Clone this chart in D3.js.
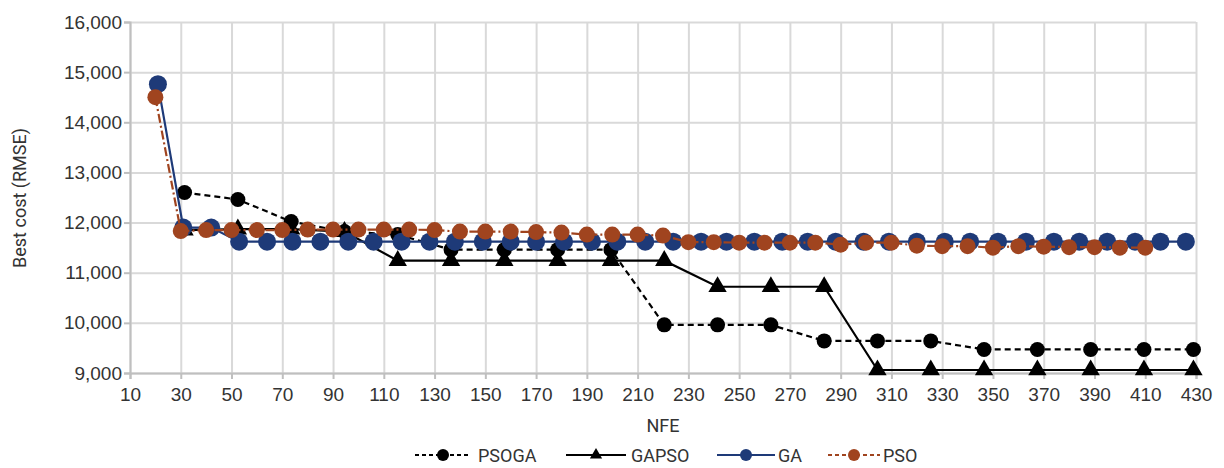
<!DOCTYPE html>
<html>
<head>
<meta charset="utf-8">
<script src="https://cdn.jsdelivr.net/npm/d3@7"></script>
<style>
  body { margin: 0; background: #fff; }
  svg { font-family: Roboto, 'Liberation Sans', sans-serif; }
  .grid line { stroke: #d9d9d9; stroke-width: 2px; }
  .grid path { display: none; }
  .axis path, .axis line { stroke: #bfbfbf; stroke-width: 2px; }
  .axis text { fill: #333; font-size: 19px; }
  .title { fill: #333; font-size: 18px; }
  .legend text { fill: #333; font-size: 18px; }
</style>
</head>
<body>
<div id="chart"></div>
<script>
'use strict';

// tick labels
var xTicks = [ 10, 30, 50, 70, 90, 110, 130, 150, 170, 190, 210, 230, 250, 270, 290, 310, 330, 350, 370, 390, 410, 430 ];
var yTicks = [ 9000, 10000, 11000, 12000, 13000, 14000, 15000, 16000 ];

// PSOGA and GAPSO share the same NFE points
var hybridNfe = [ 31.5, 52.5, 73.5, 94.5, 115.5, 136.5, 157.5, 178.5, 199.5, 220.5,
                  241.5, 262.5, 283.5, 304.5, 325.5, 346.5, 367.5, 388.5, 409.5, 429 ];
var psogaCost = [ 12600, 12460, 12020, 11820, 11760, 11460, 11460, 11460, 11460, 9960,
                  9960, 9960, 9640, 9640, 9640, 9470, 9470, 9470, 9470, 9470 ];
var gapsoCost = [ 11850, 11870, 11870, 11820, 11240, 11240, 11240, 11240, 11240, 11240,
                  10720, 10720, 10720, 9060, 9060, 9060, 9060, 9060, 9060, 9060 ];

var gaNfe = [ 21, 31, 42, 53, 64, 74, 85, 96, 106, 117, 128, 138, 149, 160, 170, 181, 192, 202, 213, 224,
              235, 245, 256, 267, 277, 288, 299, 309, 320, 331, 341, 352, 363, 374, 384, 395, 406, 416, 426 ];
var gaCost = [ 14760, 11900, 11900, 11620, 11620, 11620, 11620, 11620, 11620, 11620,
               11620, 11620, 11620, 11620, 11620, 11620, 11620, 11620, 11620, 11620,
               11620, 11620, 11620, 11620, 11620, 11620, 11620, 11620, 11620, 11620,
               11620, 11620, 11620, 11620, 11620, 11620, 11620, 11620, 11620 ];

var psoNfe = [ 20, 30, 40, 50, 60, 70, 80, 90, 100, 110, 120, 130, 140, 150, 160, 170, 180, 190, 200, 210,
               220, 230, 240, 250, 260, 270, 280, 290, 300, 310, 320, 330, 340, 350, 360, 370, 380, 390, 400, 410 ];
var psoCost = [ 14500, 11830, 11850, 11850, 11850, 11850, 11860, 11860, 11860, 11860,
                11860, 11850, 11820, 11820, 11820, 11810, 11800, 11760, 11760, 11760,
                11740, 11610, 11610, 11600, 11600, 11600, 11600, 11560, 11600, 11600,
                11540, 11530, 11530, 11500, 11530, 11520, 11510, 11510, 11500, 11500 ];

function zip( xs, ys ) {
  return xs.map( function( x, i ) { return { x: x, y: ys[i] }; } );
}

var series = [
  { name: 'PSOGA', data: zip( hybridNfe, psogaCost ), color: '#000', dash: '6,4', marker: 'circle', r: 7.5 },
  { name: 'GAPSO', data: zip( hybridNfe, gapsoCost ), color: '#000', dash: null, marker: 'triangle', r: 9 },
  { name: 'GA', data: zip( gaNfe, gaCost ), color: '#1e3a78', dash: null, marker: 'circle', r: 9 },
  { name: 'PSO', data: zip( psoNfe, psoCost ), color: '#a0441f', dash: '9,3,2,3', marker: 'circle', r: 8 }
];

var baseWidth = 1224,
    baseHeight = 468,
    margin = { top: 22, right: 28, bottom: 95, left: 130 };

var width = baseWidth - margin.left - margin.right,
    height = baseHeight - margin.top - margin.bottom;

var x = d3.scaleLinear()
    .domain( [ 10, 430 ] )
    .range( [ 0, width ] );

var y = d3.scaleLinear()
    .domain( [ 9000, 16000 ] )
    .range( [ height, 0 ] );

var svg = d3.select( '#chart' )
  .append( 'svg' )
    .attr( 'width', baseWidth )
    .attr( 'height', baseHeight )
  .append( 'g' )
    .attr( 'transform', 'translate(' + margin.left + ',' + margin.top + ')' );

// gridlines
svg.append( 'g' )
  .classed( 'grid', true )
  .call( d3.axisLeft( y ).tickValues( yTicks ).tickSize( -width ).tickFormat( '' ) );

svg.append( 'g' )
  .classed( 'grid', true )
  .call( d3.axisTop( x ).tickValues( xTicks ).tickSize( -height ).tickFormat( '' ) );

// axes
svg.append( 'g' )
  .classed( 'axis', true )
  .call( d3.axisLeft( y ).tickValues( yTicks ).tickSizeOuter( 0 ).tickSize( 6 ).tickPadding( 2 )
    .tickFormat( d3.format( ',' ) ) );

svg.append( 'g' )
  .classed( 'axis', true )
  .attr( 'transform', 'translate(0,' + height + ')' )
  .call( d3.axisBottom( x ).tickValues( xTicks ).tickSizeOuter( 0 ).tickSize( 6 ).tickPadding( 9 ) );

// lines and markers
var line = d3.line()
  .x( function( d ) { return x( d.x ); } )
  .y( function( d ) { return y( d.y ); } );

function drawMarker( g, type, cx, cy, r, color ) {
  if ( type === 'triangle' ) {
    g.append( 'path' )
      .attr( 'd', d3.symbol().type( d3.symbolTriangle ).size( r * r * 1.8 )() )
      .attr( 'transform', 'translate(' + cx + ',' + cy + ')' )
      .attr( 'fill', color );
  } else {
    g.append( 'circle' )
      .attr( 'cx', cx )
      .attr( 'cy', cy )
      .attr( 'r', r )
      .attr( 'fill', color );
  }
}

series.forEach( function( s ) {
  var g = svg.append( 'g' );
  g.append( 'path' )
    .attr( 'd', line( s.data ) )
    .attr( 'fill', 'none' )
    .attr( 'stroke', s.color )
    .attr( 'stroke-width', 2.2 )
    .attr( 'stroke-dasharray', s.dash );
  s.data.forEach( function( d ) {
    drawMarker( g, s.marker, x( d.x ), y( d.y ), s.r, s.color );
  } );
} );

// axis titles
svg.append( 'text' )
  .classed( 'title', true )
  .attr( 'transform', 'rotate(-90)' )
  .attr( 'text-anchor', 'middle' )
  .attr( 'x', -( 198 - margin.top ) )
  .attr( 'y', 26 - margin.left )
  .text( 'Best cost (RMSE)' );

svg.append( 'text' )
  .classed( 'title', true )
  .attr( 'text-anchor', 'middle' )
  .attr( 'x', width / 2 )
  .attr( 'y', 432 - margin.top )
  .text( 'NFE' );

// legend
var legendPositions = [ 415, 566, 717, 828 ];
var legendTextX = [ 478, 631, 778, 883 ];
var legendLen = [ 56, 60, 58, 52 ];
var legend = svg.append( 'g' )
  .classed( 'legend', true )
  .attr( 'transform', 'translate(' + ( -margin.left ) + ',' + ( -margin.top ) + ')' );

series.forEach( function( s, i ) {
  var x0 = legendPositions[i], ly = 455;
  legend.append( 'line' )
    .attr( 'x1', x0 )
    .attr( 'x2', x0 + legendLen[i] )
    .attr( 'y1', ly )
    .attr( 'y2', ly )
    .attr( 'stroke', s.color )
    .attr( 'stroke-width', 2 )
    .attr( 'stroke-dasharray', s.dash ? '4,3' : null );
  drawMarker( legend, s.marker, x0 + legendLen[i] / 2, ly, 6, s.color );
  legend.append( 'text' )
    .attr( 'x', legendTextX[i] )
    .attr( 'y', ly + 7 )
    .text( s.name );
} );
</script>
</body>
</html>
